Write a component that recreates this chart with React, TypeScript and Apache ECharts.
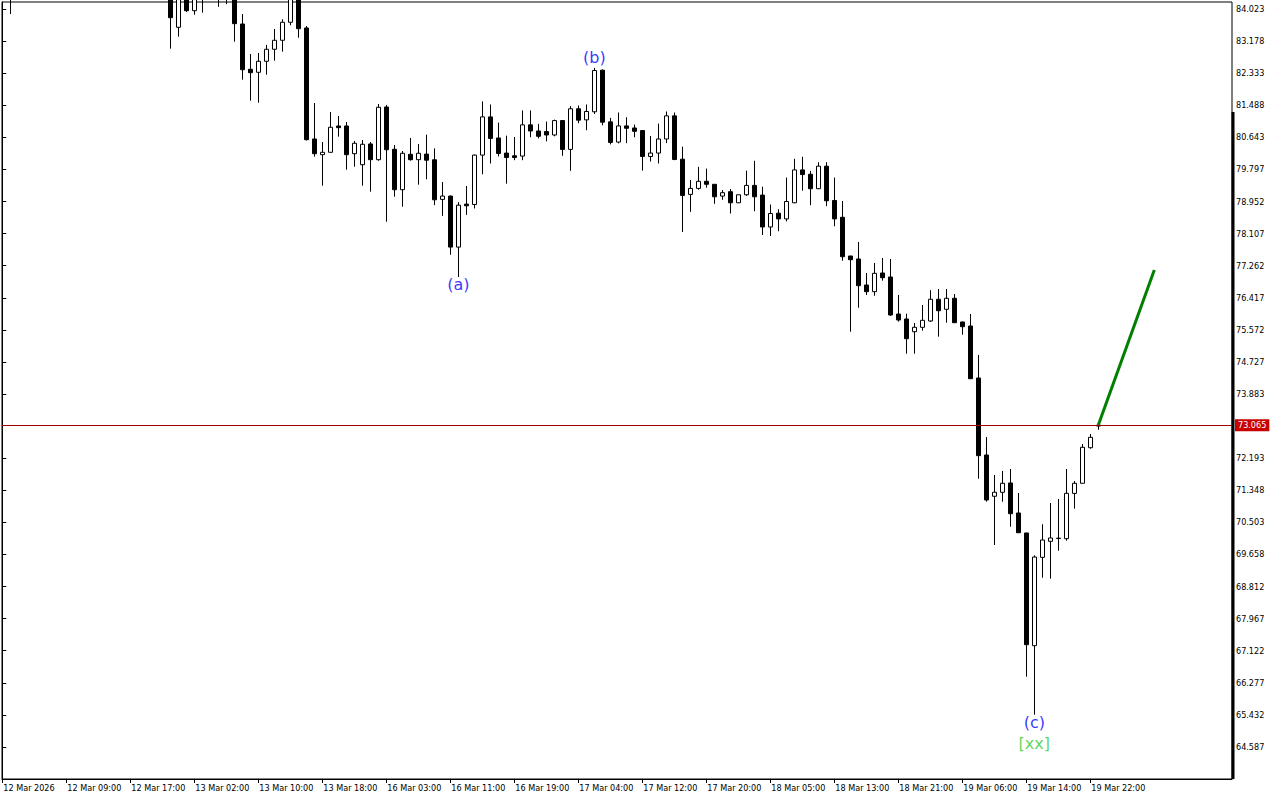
import React, { useEffect, useRef } from "react";
import * as echarts from "echarts";

// ---- categories (hourly bars, 01:00..23:00 each trading day) ----
const sessionDays = ["12 Mar", "13 Mar", "16 Mar", "17 Mar", "18 Mar", "19 Mar"];
const sessionHours = [1, 2, 3, 4, 5, 6, 7, 8, 9, 10, 11, 12, 13, 14, 15, 16, 17, 18, 19, 20, 21, 22, 23];
const firstBarLabel = "12 Mar 2026";

// ---- OHLC values ----
const opens = [
  85.10, 84.75, 84.40, 85.05, 85.45, 85.35, 85.10, 85.40, 85.80, 85.65,
  85.30, 85.00, 85.25, 85.55, 85.20, 84.90, 85.15, 84.95, 84.70, 84.95,
  84.65, 84.55, 83.541, 84.35, 83.978, 84.30, 84.45, 84.60, 84.40, 84.50,
  83.628, 82.435, 82.356, 82.646, 82.962, 83.199, 83.673, 84.35, 83.523, 80.599,
  80.186, 80.249, 80.942, 80.942, 80.212, 79.922, 80.468, 80.054, 81.442, 80.328,
  79.264, 80.196, 80.054, 80.202, 80.052, 79.009, 79.096, 77.752, 78.884, 78.874,
  80.175, 81.181, 80.626, 80.229, 80.157, 80.149, 80.971, 80.810, 80.794, 80.705,
  81.084, 80.325, 81.395, 81.103, 81.316, 82.411, 81.050, 80.518, 80.944, 80.889,
  80.821, 80.139, 80.229, 80.599, 81.208, 80.067, 79.140, 79.298, 79.485, 79.406,
  79.096, 79.211, 78.919, 79.130, 79.377, 79.122, 78.282, 78.645, 78.495, 78.919,
  79.785, 79.670, 79.290, 79.883, 78.980, 78.537, 77.518, 77.439, 76.754, 76.578,
  77.070, 76.965, 75.990, 75.859, 75.524, 75.640, 75.806, 76.378, 76.114, 76.404,
  75.780, 75.674, 74.305, 72.277, 71.190, 71.295, 71.540, 70.750, 70.223, 67.255,
  69.582, 70.004, 70.085, 70.073, 71.265, 71.532, 72.469, 73.040,
];
const highs = [
  85.40, 84.95, 85.20, 85.60, 85.90, 85.70, 85.55, 85.95, 86.20, 85.90,
  85.60, 85.45, 85.70, 85.80, 85.50, 85.30, 85.40, 85.35, 85.10, 85.20,
  84.90, 84.70, 84.50, 84.45, 84.40, 84.55, 84.80, 84.75, 84.60, 84.65,
  83.891, 82.838, 82.864, 83.075, 83.496, 83.752, 84.50, 84.60, 83.575, 81.547,
  80.520, 81.310, 81.205, 81.047, 80.547, 80.573, 80.520, 81.521, 81.495, 80.441,
  80.283, 80.626, 80.468, 80.713, 80.352, 79.467, 79.110, 78.937, 79.361, 80.190,
  81.589, 81.508, 81.032, 80.687, 80.652, 81.350, 81.350, 80.997, 81.058, 81.110,
  81.090, 81.466, 81.482, 81.508, 82.472, 82.430, 81.155, 81.297, 81.173, 80.979,
  80.830, 80.679, 81.005, 81.324, 81.297, 80.397, 79.520, 79.865, 79.820, 79.410,
  79.256, 79.282, 79.130, 79.767, 80.025, 79.343, 78.874, 78.750, 79.583, 80.078,
  80.131, 79.760, 79.988, 79.988, 79.583, 78.966, 77.520, 77.887, 77.070, 77.334,
  77.465, 77.439, 76.491, 75.998, 75.753, 76.227, 76.617, 76.648, 76.648, 76.517,
  75.790, 75.990, 74.911, 72.750, 71.750, 71.856, 71.908, 71.276, 70.230, 69.635,
  70.452, 71.013, 71.118, 71.908, 71.592, 72.567, 72.830, 73.075,
];
const lows = [
  84.60, 83.89, 84.30, 84.90, 85.20, 84.95, 84.85, 85.30, 85.50, 85.20,
  84.90, 84.80, 85.10, 85.15, 84.75, 84.70, 84.80, 84.60, 84.50, 84.55,
  84.40, 82.978, 83.294, 83.944, 83.873, 83.926, 84.30, 84.08, 84.15, 83.162,
  82.161, 81.608, 81.555, 82.293, 82.661, 82.899, 83.594, 83.267, 80.560, 80.133,
  79.370, 80.240, 80.660, 79.791, 79.870, 79.370, 79.211, 80.028, 78.421, 79.079,
  78.816, 80.030, 79.396, 79.538, 78.856, 78.574, 77.550, 76.965, 78.600, 78.770,
  79.670, 79.954, 80.139, 79.422, 80.041, 80.041, 80.644, 80.615, 80.536, 80.670,
  80.157, 79.760, 81.015, 80.829, 81.260, 80.960, 80.457, 80.484, 80.490, 80.644,
  79.767, 80.007, 79.954, 80.490, 80.041, 78.150, 78.680, 79.264, 79.317, 78.893,
  78.998, 78.637, 78.915, 79.100, 78.698, 78.071, 78.045, 78.170, 78.430, 78.910,
  79.238, 78.856, 79.280, 78.830, 78.300, 77.394, 75.524, 76.156, 76.491, 76.470,
  76.867, 75.940, 75.788, 74.945, 74.945, 75.550, 75.780, 75.393, 75.760, 75.755,
  75.445, 74.280, 71.653, 71.047, 69.907, 71.047, 70.389, 70.225, 66.438, 65.437,
  69.045, 69.020, 69.756, 70.020, 70.863, 71.530, 72.443, 72.940,
];
const closes = [
  84.75, 84.40, 85.05, 85.45, 85.35, 85.10, 85.40, 85.80, 85.65, 85.30,
  85.00, 85.25, 85.55, 85.20, 84.90, 85.15, 84.95, 84.70, 84.95, 84.65,
  84.55, 83.794, 84.35, 83.978, 84.30, 84.45, 84.60, 84.40, 84.50, 83.636,
  82.424, 82.345, 82.646, 82.962, 83.199, 83.673, 84.35, 83.504, 80.581, 80.212,
  80.249, 80.908, 80.897, 80.186, 80.486, 80.460, 80.054, 81.434, 80.317, 79.264,
  80.223, 80.054, 80.223, 80.041, 78.998, 79.096, 77.752, 78.856, 78.840, 80.175,
  81.181, 80.615, 80.218, 80.112, 80.112, 80.971, 80.810, 80.670, 80.705, 81.084,
  80.325, 81.395, 81.095, 81.324, 82.403, 81.042, 80.510, 80.944, 80.881, 80.802,
  80.139, 80.229, 80.599, 81.208, 80.059, 79.114, 79.298, 79.485, 79.406, 79.077,
  79.185, 78.919, 79.130, 79.377, 79.077, 78.282, 78.637, 78.495, 78.953, 79.785,
  79.662, 79.290, 79.883, 78.972, 78.495, 77.499, 77.420, 76.736, 76.578, 77.062,
  76.946, 75.964, 75.832, 75.340, 75.640, 75.824, 76.378, 76.077, 76.404, 75.761,
  75.656, 74.286, 72.259, 71.092, 71.295, 71.532, 70.731, 70.230, 67.281, 69.590,
  70.038, 70.091, 70.080, 71.268, 71.532, 72.480, 72.743, 73.065,
];

// ---- axis ticks ----
const priceTicks = [
  84.023, 83.178, 82.333, 81.488, 80.643, 79.797, 78.952, 78.107, 77.262, 76.417,
  75.572, 74.727, 73.883, 72.193, 71.348, 70.503, 69.658, 68.812, 67.967, 67.122,
  66.277, 65.432, 64.587,
];
const labeledBars = [0, 8, 16, 24, 32, 40, 48, 56, 64, 72, 80, 88, 96, 104, 112, 120, 128, 136];

// ---- annotations ----
const currentPrice = 73.065;
const projectionBars = [137, 144];
const projectionPrices = [73.065, 77.15];
const waveTexts = ["(a)", "(b)", "(c)", "[xx]"];
const waveBars = [57, 74, 129, 129];
const waveSides = ["low", "high", "low", "low"];
const waveColors = ["#0000ff", "#0000ff", "#0000ff", "#32cd32"];
const waveGaps = [-2, 1, -2, 19];

const barTimes: string[] = [];
sessionDays.forEach((d) =>
  sessionHours.forEach((h) => barTimes.push(`${d} ${String(h).padStart(2, "0")}:00`))
);
barTimes[0] = firstBarLabel;

const axisFont = "'DejaVu Sans Condensed', 'DejaVu Sans', sans-serif";

export default function App() {
  const ref = useRef<HTMLDivElement>(null);
  useEffect(() => {
    if (!ref.current) return;
    const chart = echarts.init(ref.current, undefined, { renderer: "svg" });
    const candles = opens.map((o, i) => [i, o, closes[i], lows[i], highs[i]]);
    const waveData = waveTexts.map((t, i) => {
      const b = waveBars[i];
      const isLow = waveSides[i] === "low";
      return {
        value: [b, isLow ? lows[b] : highs[b]],
        label: {
          show: true,
          formatter: t,
          position: isLow ? "bottom" : "top",
          distance: waveGaps[i],
          color: waveColors[i],
          fontSize: 16,
          lineHeight: 18,
          fontFamily: "'DejaVu Sans', sans-serif",
        },
      };
    });
    chart.setOption({
      animation: false,
      backgroundColor: "#ffffff",
      grid: {
        left: 2,
        top: 2,
        right: 48,
        bottom: 21,
        show: true,
        borderColor: "#000",
        borderWidth: 1,
        backgroundColor: "#fff",
      },
      xAxis: {
        type: "value",
        min: -0.04,
        max: 153.71,
        splitLine: { show: false },
        axisLine: { show: true, onZero: false, lineStyle: { color: "#000", width: 1 } },
        axisTick: {
          show: true,
          length: 4,
          customValues: labeledBars,
          lineStyle: { color: "#000" },
        },
        axisLabel: {
          customValues: labeledBars,
          formatter: (v: number) => barTimes[Math.round(v)] || "",
          align: "left",
          margin: 4,
          color: "#000",
          fontSize: 9,
          fontFamily: axisFont,
          padding: [0, 0, 0, 1],
        },
      },
      yAxis: {
        type: "value",
        position: "right",
        min: 63.744,
        max: 84.207,
        scale: true,
        splitLine: { show: false },
        axisLine: { show: true, lineStyle: { color: "#000", width: 1 } },
        axisTick: {
          show: true,
          length: 4,
          customValues: priceTicks,
          lineStyle: { color: "#000" },
        },
        axisLabel: {
          customValues: priceTicks,
          formatter: (v: number) => v.toFixed(3),
          margin: 4,
          color: "#000",
          fontSize: 9,
          fontFamily: axisFont,
        },
      },
      graphic: [
        {
          type: "rect",
          shape: { x: 1231.5, y: 112, width: 3, height: 667 },
          style: { fill: "#000" },
          z: 100,
        },
      ],
      series: [
        {
          type: "candlestick",
          data: candles,
          barWidth: 4,
          clip: true,
          itemStyle: {
            color: "#ffffff",
            color0: "#000000",
            borderColor: "#000000",
            borderColor0: "#000000",
            borderWidth: 1,
          },
          markLine: {
            silent: true,
            symbol: ["none", "none"],
            data: [{ yAxis: currentPrice }],
            lineStyle: { color: "#a00000", width: 1, type: "solid" },
            label: {
              show: true,
              position: "end",
              formatter: currentPrice.toFixed(3),
              backgroundColor: "#c80000",
              color: "#ffffff",
              padding: [2, 3, 1, 3],
              distance: 3,
              fontSize: 9,
              fontFamily: axisFont,
            },
          },
        },
        {
          type: "line",
          data: projectionBars.map((b, i) => [b, projectionPrices[i]]),
          symbol: "none",
          lineStyle: { color: "#008000", width: 3 },
          z: 5,
        },
        {
          type: "scatter",
          data: waveData,
          symbol: "circle",
          symbolSize: 1,
          itemStyle: { color: "rgba(0,0,0,0)" },
          z: 6,
        },
      ],
    });
    return () => chart.dispose();
  }, []);
  return (
    <div
      ref={ref}
      style={{ position: "fixed", left: 0, top: 0, width: 1280, height: 800, background: "#fff" }}
    />
  );
}
